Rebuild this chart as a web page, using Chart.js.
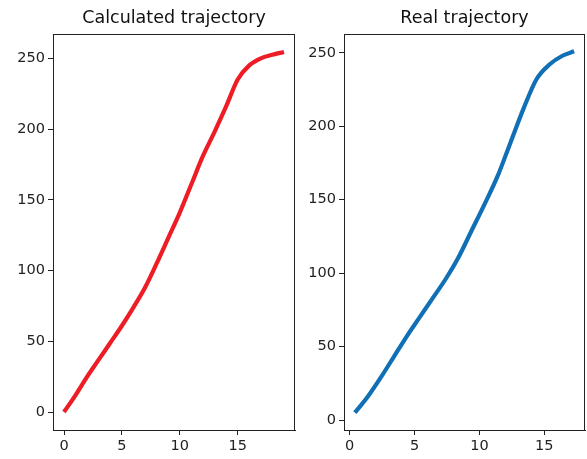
<!DOCTYPE html>
<html>
<head>
<meta charset="utf-8">
<script src="https://cdn.jsdelivr.net/npm/chart.js@4"></script>
<style>
html,body{margin:0;padding:0;background:#fff;}
#wrap{position:relative;width:587px;height:459px;overflow:hidden;}
.box{position:absolute;top:0;height:459px;}
</style>
</head>
<body>
<div id="wrap">
  <div class="box" style="left:0;width:300px;"><canvas id="c1"></canvas></div>
  <div class="box" style="left:300px;width:287px;"><canvas id="c2"></canvas></div>
</div>
<script>
// Calculated trajectory
const calcX = [0,1,2,3,4,5,6,7,8,9,10,11,12,13,14,15,16,17,18,19];
const calcY = [0,12,25,37,49,61,74,88,105,123,141,161,181,198,216,235,245,250,252.5,254.5];
// Real trajectory
const realX = [0.4,1.4,2.4,3.4,4.4,5.4,6.4,7.4,8.4,9.4,10.4,11.4,12.4,13.4,14.4,15.4,16.4,17.3];
const realY = [5,16,29,43,57,70,83,96,111,129,147,166,189,212,232,242,248,251];

const titles = ['Calculated trajectory','Real trajectory'];
const FONT = "'DejaVu Sans', sans-serif";

const framePlugin = {
  id:'frame',
  afterDraw(chart){
    const a = chart.chartArea, ctx = chart.ctx;
    ctx.save();
    ctx.strokeStyle = '#222';
    ctx.lineWidth = 1;
    ctx.strokeRect(Math.round(a.left)+0.5, Math.round(a.top)+0.5, Math.round(a.right-a.left)-1, Math.round(a.bottom-a.top));
    ctx.restore();
  }
};

function pts(xs, ys){ return xs.map((x,i)=>({x:x,y:ys[i]})); }

function makeChart(id, title, xs, ys, color, xr, yr, yAxisW, padRight){
  return new Chart(document.getElementById(id), {
    type:'line',
    data:{datasets:[{data:pts(xs,ys), borderColor:color, borderWidth:4.2, pointRadius:0, tension:0.15, cubicInterpolationMode:'monotone', fill:false, borderCapStyle:'butt', borderJoinStyle:'round'}]},
    options:{
      responsive:true, maintainAspectRatio:false, animation:false,
      layout:{padding:{left:0,right:padRight,top:0,bottom:0}},
      plugins:{
        legend:{display:false}, tooltip:{enabled:false},
        title:{display:true, text:title, fullSize:false, color:'#111',
          font:{family:FONT, size:17.5, weight:'normal', lineHeight:1.2},
          padding:{top:7.5, bottom:5.5}}
      },
      scales:{
        x:{type:'linear', min:xr[0], max:xr[1],
          afterFit(s){ s.height = 29; },
          grid:{display:true, drawOnChartArea:false, drawTicks:true, tickLength:5, color:'#222'},
          border:{display:true, color:'#222', width:1},
          ticks:{stepSize:5, includeBounds:false, color:'#222', padding:3, maxRotation:0, font:{family:FONT, size:14.5}}
        },
        y:{type:'linear', min:yr[0], max:yr[1],
          afterFit(s){ s.width = yAxisW; },
          grid:{display:true, drawOnChartArea:false, drawTicks:true, tickLength:5, color:'#222'},
          border:{display:true, color:'#222', width:1},
          ticks:{stepSize:50, includeBounds:false, color:'#222', padding:3, font:{family:FONT, size:14.5}}
        }
      }
    },
    plugins:[framePlugin]
  });
}

makeChart('c1', titles[0], calcX, calcY, '#ee1c24', [-0.95,19.95], [-12.7,267.2], 53, 5);
makeChart('c2', titles[1], realX, realY, '#1170b5', [-0.44,18.14], [-6.8,262.8], 44, 2);
</script>
</body>
</html>
